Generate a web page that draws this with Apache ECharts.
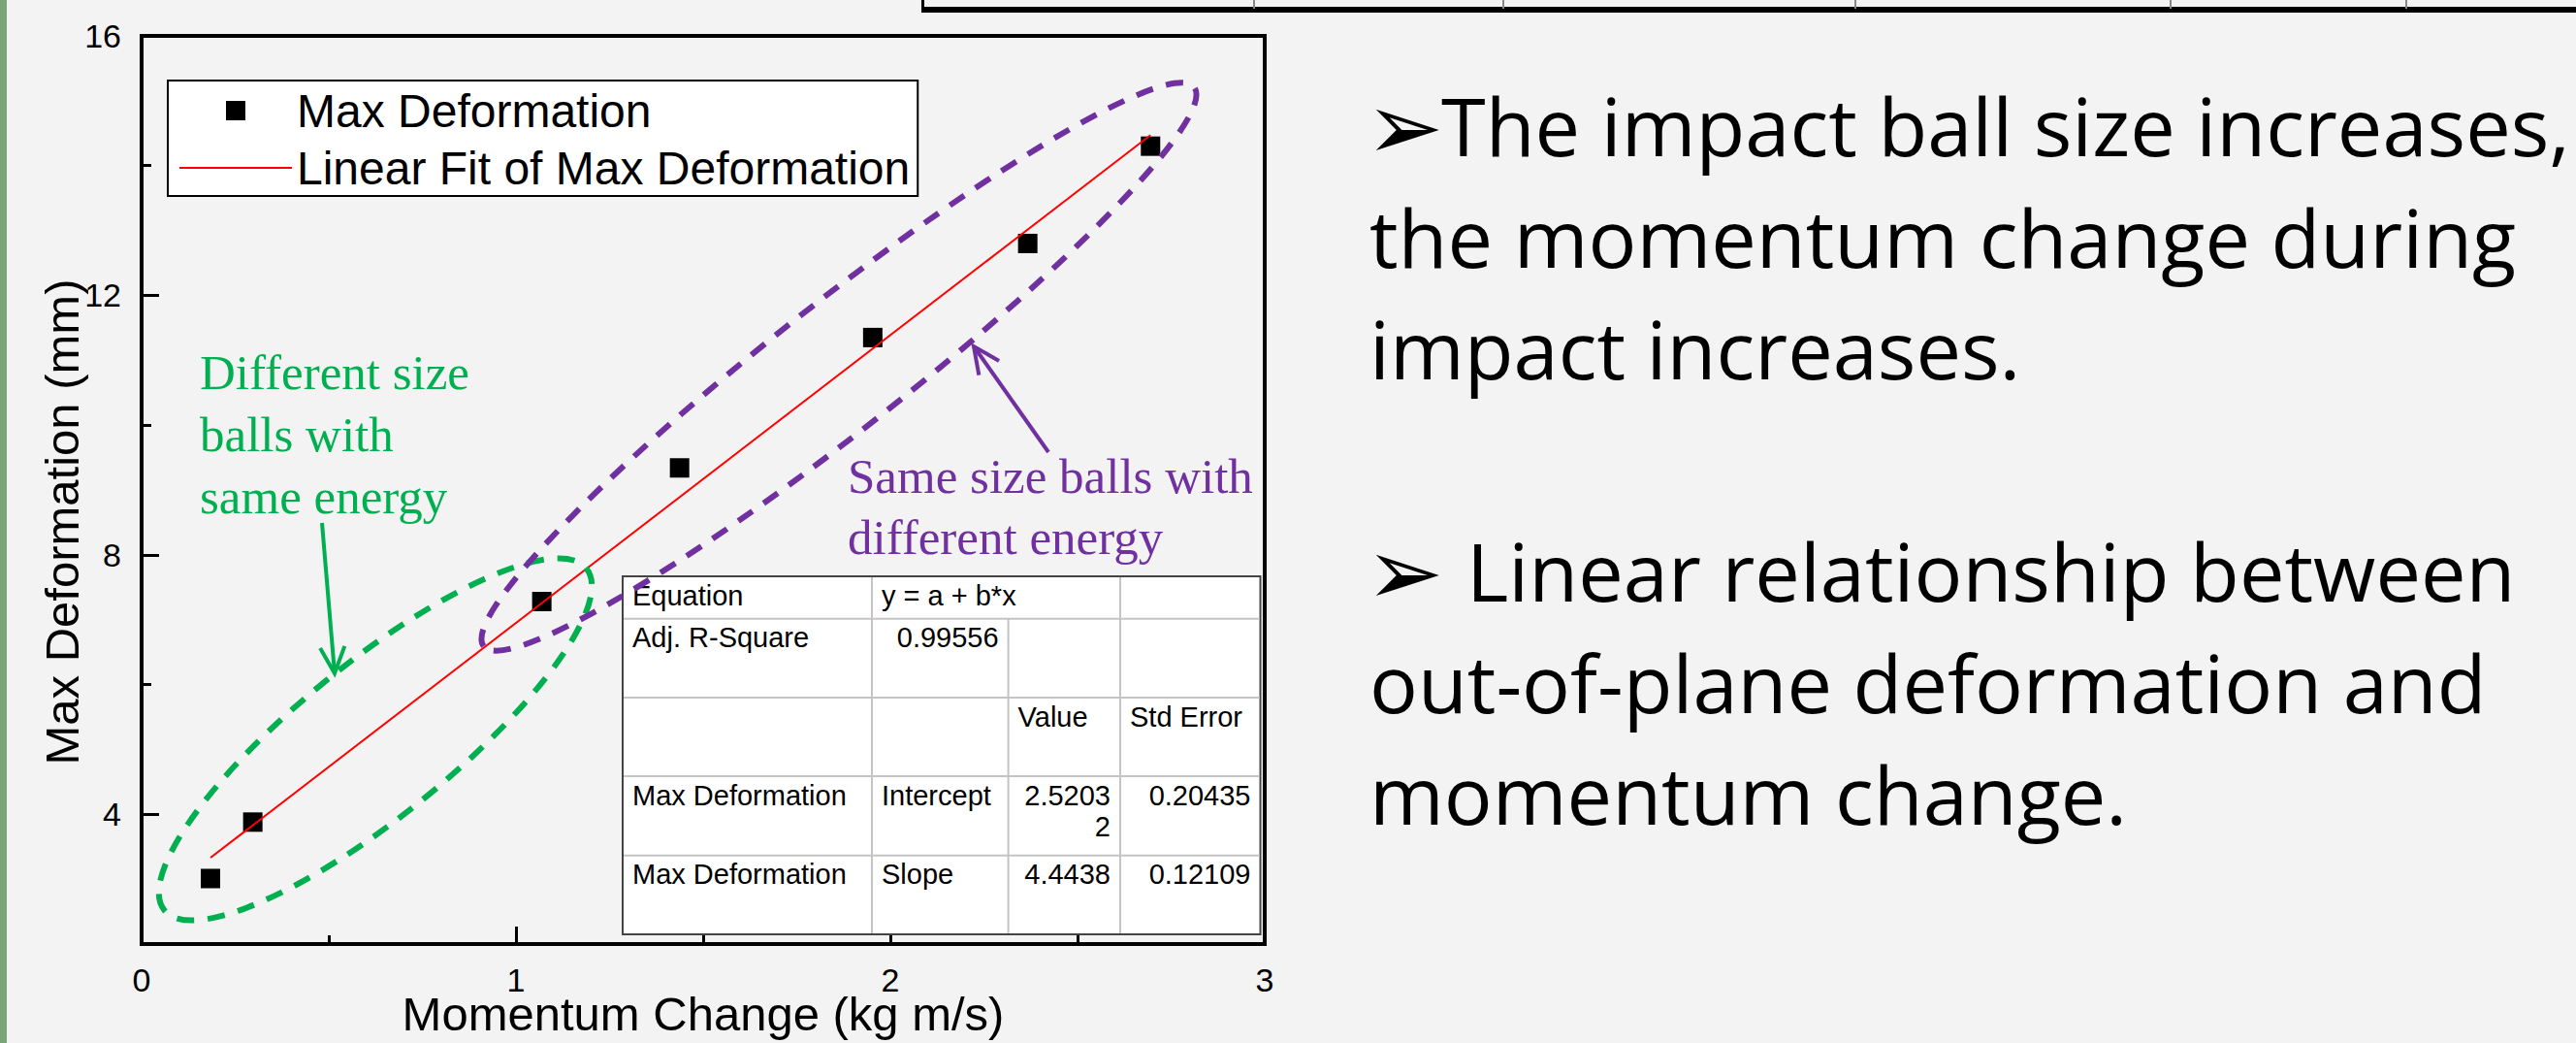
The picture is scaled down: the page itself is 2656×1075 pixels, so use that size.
<!DOCTYPE html>
<html>
<head>
<meta charset="utf-8">
<script src="https://cdn.jsdelivr.net/npm/echarts@6/dist/echarts.min.js"></script>
<style>
html,body{margin:0;padding:0;background:#f3f3f3;overflow:hidden;}
#c{width:2656px;height:1075px;}
</style>
</head>
<body>
<div id="c"></div>
<script>
// ---------- data ----------
const momentum = [0.184, 0.297, 1.069, 1.437, 1.953, 2.367, 2.695];
const maxDeformation = [3.01, 3.88, 7.28, 9.34, 11.35, 12.80, 14.30];
const fitMomentum = [0.184, 2.695];
const fitDeformation = [3.33, 14.47];
const xTickLabels = [0, 1, 2, 3];
const yTickLabels = [4, 8, 12, 16];
const yMinorTicks = [6, 10, 14];
const seriesNames = ['Max Deformation', 'Linear Fit of Max Deformation'];
const xAxisTitle = 'Momentum Change (kg m/s)';
const yAxisTitle = 'Max Deformation (mm)';
const tableRows = [
  ['Equation', 'y = a + b*x', '', ''],
  ['Adj. R-Square', '0.99556', '', ''],
  ['', '', 'Value', 'Std Error'],
  ['Max Deformation', 'Intercept', '2.5203\n2', '0.20435'],
  ['Max Deformation', 'Slope', '4.4438', '0.12109']
];
const greenNote = ['Different size', 'balls with', 'same energy'];
const purpleNote = ['Same size balls with', 'different energy'];
const bullet1 = ['The impact ball size increases,', 'the momentum change during', 'impact increases.'];
const bullet2 = ['Linear relationship between', 'out-of-plane deformation and', 'momentum change.'];

// ---------- styles ----------
const SANS = "'Liberation Sans', Arial, sans-serif";
const SERIF = "'Liberation Serif', 'Times New Roman', serif";
const BODY = "'Open Sans', 'DejaVu Sans', sans-serif";
const GREEN = '#00b050';
const PURPLE = '#7030a0';

const chart = echarts.init(document.getElementById('c'), null, {renderer: 'svg', width: 2656, height: 1075});

const G = [];
// left green stripe
G.push({type: 'rect', shape: {x: 0, y: 0, width: 7, height: 1075}, style: {fill: '#78a678'}, z: 1});
// fragment of a table at top right
G.push({type: 'rect', shape: {x: 950, y: 7, width: 1706, height: 6}, style: {fill: '#000'}, z: 1});
G.push({type: 'line', shape: {x1: 951.5, y1: 0, x2: 951.5, y2: 13}, style: {stroke: '#000', lineWidth: 3}, z: 1});
[1293, 1550, 1913, 2238, 2481].forEach(x => G.push({type: 'line', shape: {x1: x, y1: 0, x2: x, y2: 9}, style: {stroke: '#888', lineWidth: 2}, z: 1}));

// statistics table
const colX = [642, 899, 1039.6, 1155, 1299.5];
const rowY = [594, 637.7, 719, 800, 881.7, 963];
G.push({type: 'rect', shape: {x: colX[0], y: rowY[0], width: colX[4] - colX[0], height: rowY[5] - rowY[0]},
  style: {fill: '#fff', stroke: '#444', lineWidth: 2}, z: 5});
for (let r = 1; r < 5; r++) {
  G.push({type: 'line', shape: {x1: colX[0] + 1, y1: rowY[r], x2: colX[4] - 1, y2: rowY[r]}, style: {stroke: '#c4c4c4', lineWidth: 2}, z: 6});
}
[1, 3].forEach(c => G.push({type: 'line', shape: {x1: colX[c], y1: rowY[0] + 1, x2: colX[c], y2: rowY[5] - 1}, style: {stroke: '#c4c4c4', lineWidth: 2}, z: 6}));
G.push({type: 'line', shape: {x1: colX[2], y1: rowY[1], x2: colX[2], y2: rowY[5] - 1}, style: {stroke: '#c4c4c4', lineWidth: 2}, z: 6});
tableRows.forEach((row, r) => {
  row.forEach((txt, c) => {
    if (!txt) return;
    const numeric = /^[0-9.\n]+$/.test(txt);
    G.push({type: 'text', x: numeric ? colX[c + 1] - 10 : colX[c] + 10, y: rowY[r] + 3.5,
      style: {text: txt, fontSize: 29, fontFamily: SANS, fill: '#000', align: numeric ? 'right' : 'left', verticalAlign: 'top', lineHeight: 32}, z: 7});
  });
});

// ellipses
G.push({type: 'ellipse', x: 387, y: 762, rotation: 39 * Math.PI / 180, shape: {cx: 0, cy: 0, rx: 280, ry: 79},
  style: {fill: 'none', stroke: GREEN, lineWidth: 6, lineDash: [18, 14]}, z: 20});
G.push({type: 'ellipse', x: 865, y: 378, rotation: 38.2 * Math.PI / 180, shape: {cx: 0, cy: 0, rx: 466, ry: 66},
  style: {fill: 'none', stroke: PURPLE, lineWidth: 6, lineDash: [18, 14]}, z: 20});

// arrows
function arrow(sx, sy, tx, ty, color) {
  const dx = tx - sx, dy = ty - sy, L = Math.hypot(dx, dy), ux = dx / L, uy = dy / L;
  const a = 25 * Math.PI / 180, h = 30;
  const r1 = [ux * Math.cos(a) - uy * Math.sin(a), ux * Math.sin(a) + uy * Math.cos(a)];
  const r2 = [ux * Math.cos(-a) - uy * Math.sin(-a), ux * Math.sin(-a) + uy * Math.cos(-a)];
  G.push({type: 'polyline', shape: {points: [[sx, sy], [tx, ty]]}, style: {stroke: color, lineWidth: 4, fill: 'none'}, z: 21});
  G.push({type: 'polyline', shape: {points: [[tx - r1[0] * h, ty - r1[1] * h], [tx, ty], [tx - r2[0] * h, ty - r2[1] * h]]},
    style: {stroke: color, lineWidth: 4, fill: 'none'}, z: 21});
}
arrow(332, 539, 345, 694, GREEN);
arrow(1081, 466, 1004, 357, PURPLE);

// annotation texts
greenNote.forEach((t, i) => G.push({type: 'text', x: 206, y: 401 + i * 64 - 17,
  style: {text: t, fontSize: 51, fontFamily: SERIF, fill: GREEN, align: 'left', verticalAlign: 'middle'}, z: 22}));
purpleNote.forEach((t, i) => G.push({type: 'text', x: 874, y: 508 + i * 63 - 17,
  style: {text: t, fontSize: 51, fontFamily: SERIF, fill: PURPLE, align: 'left', verticalAlign: 'middle'}, z: 22}));

// bullet texts on the right
const BS = 83, LS = 115;
function bullet(lines, base, firstX) {
  G.push({type: 'text', x: 1408, y: base - 30, style: {text: '\u27A2', fontSize: 96, fontWeight: 'bold', fontFamily: "'DejaVu Sans', sans-serif", fill: '#000', align: 'left', verticalAlign: 'middle'}, z: 5});
  lines.forEach((t, i) => G.push({type: 'text', x: i === 0 ? firstX : 1412, y: base + i * LS - 0.39 * BS,
    style: {text: t, fontSize: BS, fontFamily: BODY, fill: '#000', align: 'left', verticalAlign: 'middle'}, z: 5}));
}
bullet(bullet1, 161, 1486);
bullet(bullet2, 620, 1512);

const option = {
  backgroundColor: 'transparent',
  animation: false,
  grid: {left: 146, right: 1352, top: 37, bottom: 102, outerBoundsMode: 'none', containLabel: false,
    show: true, borderColor: '#000', borderWidth: 4, backgroundColor: 'transparent'},
  legend: {
    left: 173, top: 83, orient: 'vertical', selectedMode: false,
    padding: [7, 8, 5, 12], itemGap: 11, itemWidth: 116, itemHeight: 20, symbolKeepAspect: true,
    backgroundColor: '#fff', borderColor: '#000', borderWidth: 2, borderRadius: 0,
    textStyle: {fontSize: 48, fontFamily: SANS, color: '#000', lineHeight: 48},
    data: [
      {name: seriesNames[0], icon: 'path://M0,0H10V10H0Z', itemStyle: {color: '#000', opacity: 1}},
      {name: seriesNames[1], icon: 'path://M0,0H58V1H0Z', itemStyle: {color: '#ff0000', opacity: 1}}
    ]
  },
  xAxis: {
    type: 'value', min: 0, max: 3, interval: 1,
    axisLine: {show: true, lineStyle: {color: '#000', width: 4}},
    axisTick: {show: true, inside: true, length: 18, lineStyle: {color: '#000', width: 3}},
    minorTick: {show: true, splitNumber: 2, length: 9, lineStyle: {color: '#000', width: 3}},
    axisLabel: {margin: 23.5, fontSize: 34, lineHeight: 26, fontFamily: SANS, color: '#000', customValues: xTickLabels},
    splitLine: {show: false},
    name: xAxisTitle, nameLocation: 'middle', nameGap: 51.5, nameMoveOverlap: false,
    nameTextStyle: {fontSize: 49, fontFamily: SANS, color: '#000', lineHeight: 40}
  },
  yAxis: [{
    type: 'value', min: 2, max: 16,
    axisLine: {show: true, lineStyle: {color: '#000', width: 4}},
    axisTick: {show: true, inside: true, length: 18, lineStyle: {color: '#000', width: 3}, customValues: yTickLabels},
    axisLabel: {margin: 21, fontSize: 34, fontFamily: SANS, color: '#000', customValues: yTickLabels},
    splitLine: {show: false},
    name: yAxisTitle, nameLocation: 'middle', nameGap: 58, nameMoveOverlap: false,
    nameTextStyle: {fontSize: 49, fontFamily: SANS, color: '#000', lineHeight: 49, padding: [0, 66, 0, 0]}
  }, {
    type: 'value', min: 2, max: 16, position: 'left', offset: 0,
    axisLine: {show: false},
    axisTick: {show: true, inside: true, length: 10, lineStyle: {color: '#000', width: 3}, customValues: yMinorTicks},
    axisLabel: {show: false},
    splitLine: {show: false}
  }],
  series: [{
    type: 'scatter', name: seriesNames[0], z: 3,
    data: momentum.map((x, i) => [x, maxDeformation[i]]),
    symbol: 'rect', symbolSize: 20, itemStyle: {color: '#000', opacity: 1}
  }, {
    type: 'line', name: seriesNames[1], z: 4,
    data: fitMomentum.map((x, i) => [x, fitDeformation[i]]),
    symbol: 'none', lineStyle: {color: '#ff0000', width: 2}, itemStyle: {color: '#ff0000'}
  }],
  graphic: {elements: G}
};
chart.setOption(option);
</script>
</body>
</html>
